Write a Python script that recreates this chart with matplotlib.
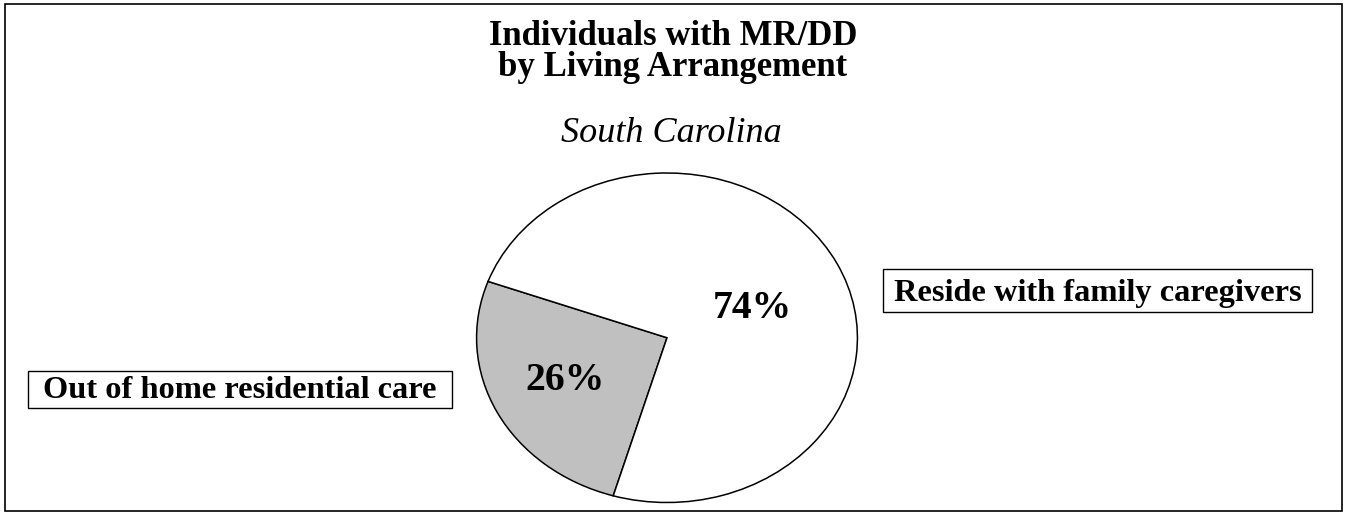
import matplotlib.pyplot as plt
from matplotlib.patches import Rectangle

# data
labels = ['Out of home residential care', 'Reside with family caregivers']
shares = [26, 74]
colors = ['#C0C0C0', '#FFFFFF']
title_lines = ['Individuals with MR/DD', 'by Living Arrangement']
subtitle = 'South Carolina'

W, H = 1345, 512
fig = plt.figure(figsize=(W / 100, H / 100), dpi=100)
serif = 'Liberation Serif'


def px_rect(x0, y0, x1, y1, lw):
    # rectangle given in pixel coords measured from the top left
    fig.patches.append(Rectangle((x0 / W, 1 - y1 / H), (x1 - x0) / W, (y1 - y0) / H,
                                 transform=fig.transFigure, fill=False,
                                 edgecolor='black', linewidth=lw))


# outer frame
px_rect(5, 3.7, 1341.5, 510.5, 1.2)

# pie, drawn as an ellipse (aspect auto)
ax = fig.add_axes([476 / W, (H - 503) / H, 382 / W, 330.5 / H])
wedges, texts, autotexts = ax.pie(shares, colors=colors, startangle=160,
                                  counterclock=True, autopct='%1.0f%%',
                                  wedgeprops=dict(edgecolor='black', linewidth=1.1),
                                  textprops=dict(fontfamily=serif, fontweight='bold',
                                                 fontsize=28.5))
ax.set_aspect('auto')
ax.set_xlim(-1.003, 1.003)
ax.set_ylim(-1.003, 1.003)
autotexts[0].set_position((-0.535, -0.26))
autotexts[1].set_position((0.45, 0.18))

# titles
fig.text(673 / W, 1 - 45 / H, title_lines[0], ha='center', va='baseline',
         fontfamily=serif, fontweight='bold', fontsize=25)
fig.text(673 / W, 1 - 75.5 / H, title_lines[1], ha='center', va='baseline',
         fontfamily=serif, fontweight='bold', fontsize=25)
fig.text(671 / W, 1 - 141.5 / H, subtitle, ha='center', va='baseline',
         fontfamily=serif, fontstyle='italic', fontsize=26)

# category label boxes
px_rect(27.7, 371, 452, 407.7, 1.0)
px_rect(883, 269.3, 1312, 312.3, 1.0)
fig.text(240 / W, 1 - 397.5 / H, labels[0], ha='center', va='baseline',
         fontfamily=serif, fontweight='bold', fontsize=23.3)
fig.text(1097.5 / W, 1 - 301.5 / H, labels[1], ha='center', va='baseline',
         fontfamily=serif, fontweight='bold', fontsize=23.3)

fig.savefig('out.png', dpi=100, facecolor='white')
